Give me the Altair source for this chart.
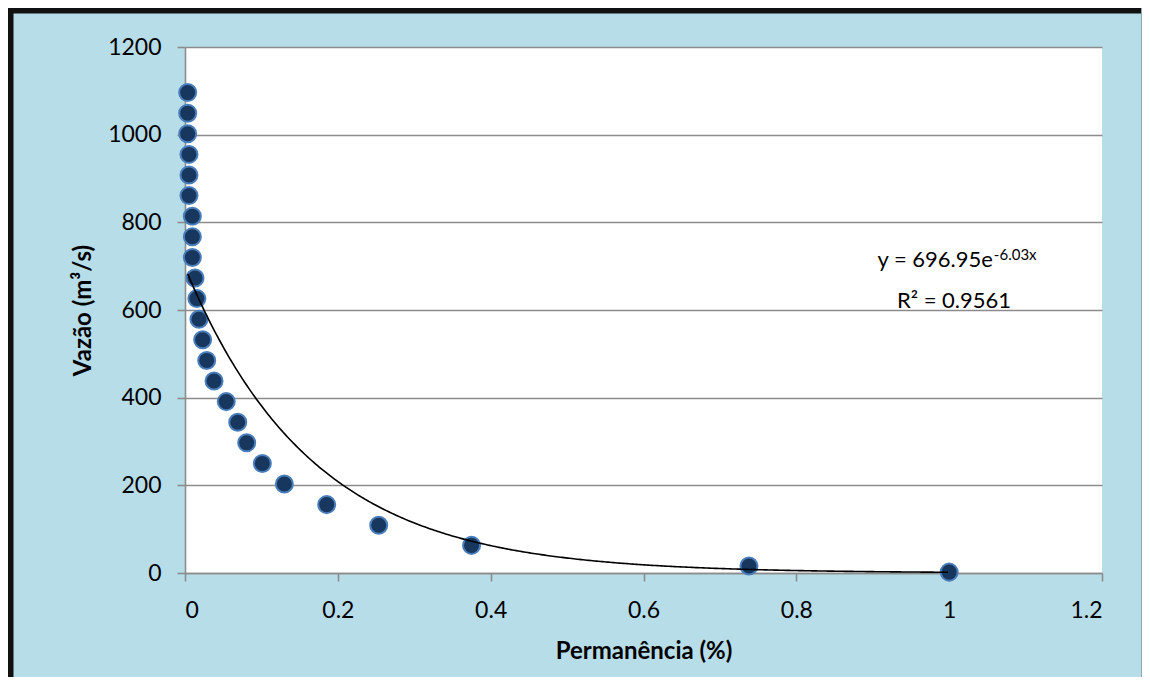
import altair as alt
import pandas as pd

# ---- data ----
permanencia = [0.0035, 0.0035, 0.0035, 0.0052, 0.0052, 0.0052, 0.0096, 0.0096, 0.0096,
               0.0131, 0.0155, 0.0183, 0.0231, 0.0284, 0.038, 0.054, 0.069, 0.0807,
               0.1012, 0.130, 0.1854, 0.2535, 0.375, 0.738, 1.0]
vazao = [1096, 1049, 1002, 955, 908, 861, 814, 767, 720,
         673, 626, 579, 532, 485, 438, 391, 344, 297,
         250, 203, 156, 109, 63, 16, 2]

# trendline shown on the chart: y = 696.95 e^(-6.03x), R² = 0.9561
fit_a = 696.95
fit_b = -6.03
x_ticks = [0, 0.2, 0.4, 0.6, 0.8, 1.0, 1.2]
y_ticks = [0, 200, 400, 600, 800, 1000, 1200]

df = pd.DataFrame({"perm": permanencia, "vazao": vazao})

FONT = "Lato"
BG = "#B7DDE8"
GRID = "#8C8C8C"

W, H = 917, 526
PAD_L, PAD_T = 177, 39
PAD_R = 1134 - PAD_L - W
PAD_B = 669 - PAD_T - H

xscale = alt.Scale(domain=[0, 1.2], nice=False, zero=True)
yscale = alt.Scale(domain=[0, 1200], nice=False)

xaxis = alt.Axis(values=x_ticks, format=".1~f", grid=False, title="Permanência (%)",
                 tickSize=8, labelPadding=18, titleX=W / 2, titleY=78,
                 titleBaseline="middle", titleAlign="center")
yaxis = alt.Axis(values=y_ticks, format="d", grid=True, title="Vazão (m³/s)",
                 tickSize=8, labelPadding=16, titleX=-102, titleY=H / 2,
                 titleAngle=270, titleBaseline="middle", titleAlign="center")

points = alt.Chart(df).mark_point(
    filled=True, shape="circle", size=290, fill="#17375E", stroke="#4A7EBB",
    strokeWidth=2, opacity=1
).encode(
    x=alt.X("perm:Q", scale=xscale, axis=xaxis),
    y=alt.Y("vazao:Q", scale=yscale, axis=yaxis),
)

trend = alt.Chart(alt.sequence(min(permanencia), 1.0001, 0.0025, as_="t")).transform_calculate(
    fy=f"{fit_a} * exp({fit_b} * datum.t)"
).mark_line(color="black", strokeWidth=1.6).encode(
    x=alt.X("t:Q", scale=xscale),
    y=alt.Y("fy:Q", scale=yscale),
)

eq_main = alt.Chart(alt.Data(values=[{"s": "y = 696.95e"}])).mark_text(
    font=FONT, fontSize=22, align="right", baseline="alphabetic", color="black"
).encode(x=alt.datum(1.0573), y=alt.datum(698), text="s:N")

eq_sup = alt.Chart(alt.Data(values=[{"s": "-6.03x"}])).mark_text(
    font=FONT, fontSize=15, align="left", baseline="alphabetic", color="black"
).encode(x=alt.datum(1.0585), y=alt.datum(714), text="s:N")

eq_r2 = alt.Chart(alt.Data(values=[{"s": "R² = 0.9561"}])).mark_text(
    font=FONT, fontSize=22, align="center", baseline="alphabetic", color="black"
).encode(x=alt.datum(1.0063), y=alt.datum(604), text="s:N")

one = alt.Data(values=[{}])
border_top = alt.Chart(one).mark_rule(color="#111111", strokeWidth=5.5).encode(
    x=alt.value(-PAD_L), x2=alt.value(W + PAD_R), y=alt.value(10.75 - 8 - PAD_T)
)
border_left = alt.Chart(one).mark_rule(color="#111111", strokeWidth=5.5).encode(
    x=alt.value(10.75 - 8 - PAD_L), y=alt.value(-PAD_T), y2=alt.value(H + PAD_B)
)
border_right = alt.Chart(one).mark_rule(color="#8FA9B0", strokeWidth=1).encode(
    x=alt.value(W + PAD_R - 0.5), y=alt.value(-PAD_T), y2=alt.value(H + PAD_B)
)

chart = alt.layer(
    points, trend, eq_main, eq_sup, eq_r2, border_top, border_left, border_right
).properties(
    width=W, height=H,
    background=BG,
    padding={"left": PAD_L, "top": PAD_T, "right": PAD_R, "bottom": PAD_B},
    autosize=alt.AutoSizeParams(type="none"),
).configure_view(
    fill="white", strokeWidth=0
).configure_axis(
    labelFont=FONT, labelFontSize=23, labelColor="black",
    titleFont=FONT, titleFontSize=24, titleFontWeight="bold", titleColor="black",
    domainColor=GRID, domainWidth=1.6, tickColor=GRID, tickWidth=1.6,
    gridColor=GRID, gridWidth=1.4, gridOpacity=1,
)

chart.save("out.html", embed_options={"renderer": "svg", "actions": False})
